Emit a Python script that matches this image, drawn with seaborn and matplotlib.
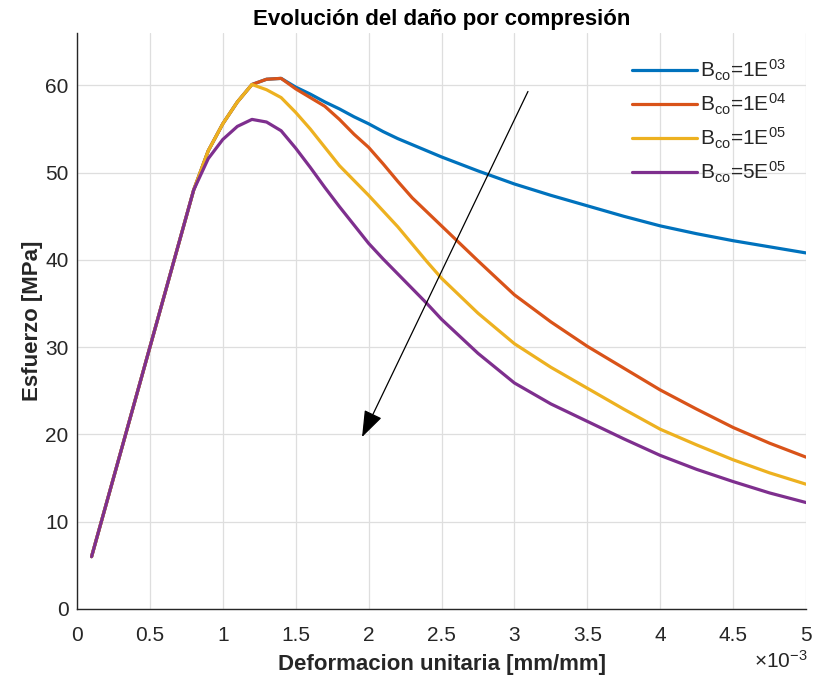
import numpy as np
import pandas as pd
import seaborn as sns
import matplotlib
matplotlib.use("Agg")
import matplotlib.pyplot as plt

# ---------------- data (strain in units of 1e-3 mm/mm, stress in MPa) ----------------
strain = [0.1, 0.2, 0.3, 0.4, 0.5, 0.6, 0.7, 0.8, 0.9, 1.0,
          1.1, 1.2, 1.3, 1.4, 1.5, 1.6, 1.7, 1.8, 1.9, 2.0,
          2.1, 2.2, 2.3, 2.4, 2.5, 2.75, 3.0, 3.25, 3.5, 3.75,
          4.0, 4.25, 4.5, 4.75, 5.0]

stress_1e03 = [6, 12, 18, 24, 30, 36, 42, 48, 52.5, 55.6,
               58.1, 60.1, 60.7, 60.8, 59.8, 59.0, 58.1, 57.3, 56.4, 55.6,
               54.7, 53.9, 53.2, 52.5, 51.8, 50.2, 48.7, 47.4, 46.2, 45.0,
               43.9, 43.0, 42.2, 41.5, 40.8]

stress_1e04 = [6, 12, 18, 24, 30, 36, 42, 48, 52.5, 55.6,
               58.1, 60.1, 60.7, 60.8, 59.6, 58.6, 57.6, 56.1, 54.4, 52.9,
               51.0, 49.0, 47.1, 45.5, 43.9, 39.9, 36.0, 32.9, 30.1, 27.6,
               25.1, 22.9, 20.8, 19.0, 17.4]

stress_1e05 = [6, 12, 18, 24, 30, 36, 42, 48, 52.5, 55.6,
               58.1, 60.1, 59.5, 58.6, 56.9, 55.0, 52.9, 50.8, 49.1, 47.4,
               45.6, 43.8, 41.8, 39.8, 37.9, 33.9, 30.4, 27.7, 25.3, 22.9,
               20.6, 18.8, 17.1, 15.6, 14.3]

stress_5e05 = [6, 12, 18, 24, 30, 36, 42, 48, 51.6, 53.8,
               55.3, 56.1, 55.8, 54.8, 52.8, 50.6, 48.3, 46.1, 44.0, 41.9,
               40.1, 38.4, 36.7, 35.0, 33.2, 29.3, 25.9, 23.5, 21.5, 19.5,
               17.6, 16.0, 14.6, 13.3, 12.2]

labels = [r"B$_{\mathrm{co}}$=1E$^{03}$", r"B$_{\mathrm{co}}$=1E$^{04}$",
          r"B$_{\mathrm{co}}$=1E$^{05}$", r"B$_{\mathrm{co}}$=5E$^{05}$"]
series = [stress_1e03, stress_1e04, stress_1e05, stress_5e05]
colors = ["#0072BD", "#D95319", "#EDB120", "#7E2F8E"]

xticks = [0, 0.5, 1, 1.5, 2, 2.5, 3, 3.5, 4, 4.5, 5]
yticks = [0, 10, 20, 30, 40, 50, 60]

df = pd.concat([pd.DataFrame({"strain": strain, "stress": s, "serie": l})
                for s, l in zip(series, labels)], ignore_index=True)

# ---------------- style ----------------
sns.set_theme(style="whitegrid")
plt.rcParams["font.family"] = ["Liberation Sans", "DejaVu Sans"]
plt.rcParams["mathtext.fontset"] = "custom"
plt.rcParams["mathtext.rm"] = "Liberation Sans"
plt.rcParams["mathtext.it"] = "Liberation Sans:italic"
plt.rcParams["mathtext.bf"] = "Liberation Sans:bold"

txt = "#262626"
fig = plt.figure(figsize=(8.16, 6.82), dpi=100)
ax = fig.add_axes([77 / 816, 73 / 682, 729 / 816, 576 / 682])

sns.lineplot(data=df, x="strain", y="stress", hue="serie", palette=colors,
             hue_order=labels, linewidth=2.3, ax=ax, sort=False, estimator=None)

ax.set_xlim(0, 5)
ax.set_ylim(0, 66)
ax.set_xticks(xticks)
ax.set_yticks(yticks)
ax.set_xticklabels([f"{t:g}" for t in xticks])
ax.set_yticklabels([f"{t:g}" for t in yticks])

ax.grid(True, color="#dedede", linewidth=0.9)
for side in ["top", "right"]:
    ax.spines[side].set_visible(False)
for side in ["left", "bottom"]:
    ax.spines[side].set_color(txt)
    ax.spines[side].set_linewidth(1.0)
ax.tick_params(axis="both", direction="in", length=5, width=1.0, color=txt,
               labelsize=15, labelcolor=txt)
ax.tick_params(axis="x", pad=12)
ax.tick_params(axis="y", pad=6)

ax.set_title("Evolución del daño por compresión", fontsize=16,
             fontweight="bold", color="black", pad=6)
ax.set_xlabel("Deformacion unitaria [mm/mm]", fontsize=16,
              fontweight="bold", color=txt, labelpad=7)
ax.set_ylabel("Esfuerzo [MPa]", fontsize=16, fontweight="bold",
              color=txt, labelpad=2)

fig.text(808 / 816, 1 - 661 / 682, r"$\times$10$^{-3}$", ha="right",
         va="center", fontsize=15, color=txt)

leg = ax.legend(loc="upper left", bbox_to_anchor=(0.762, 0.957), frameon=False,
                fontsize=15, handlelength=3.1, handletextpad=0.15,
                labelspacing=0.42, borderpad=0, borderaxespad=0)
for t in leg.get_texts():
    t.set_color(txt)
for h in leg.get_lines():
    h.set_linewidth(2.3)

ax.annotate("", xy=(1.955, 19.7), xytext=(3.093, 59.3),
            arrowprops=dict(arrowstyle="-|>,head_length=0.75,head_width=0.27",
                            color="black", lw=0.9,
                            mutation_scale=22, shrinkA=0, shrinkB=0))

fig.savefig("out.png", dpi=100)
